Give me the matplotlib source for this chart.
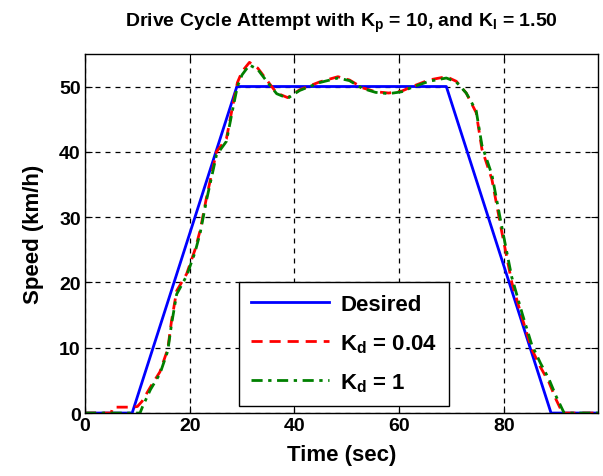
import matplotlib.pyplot as plt
import numpy as np

plt.rcParams['font.family'] = ['Liberation Sans', 'DejaVu Sans']
plt.rcParams['font.weight'] = 'bold'
plt.rcParams['mathtext.fontset'] = 'custom'
plt.rcParams['mathtext.rm'] = 'Liberation Sans:bold'
plt.rcParams['mathtext.it'] = 'Liberation Sans:bold'
plt.rcParams['mathtext.bf'] = 'Liberation Sans:bold'

# desired drive cycle
t_des = [0, 9, 29, 69, 89, 98]
v_des = [0, 0, 50, 50, 0, 0]

# Kd = 0.04 response
t_a = [0, 5.0, 5.3, 9.1, 10.0, 10.9, 12.5, 14.3, 15.8, 16.5, 17.5, 19.4, 21.0, 22.0,
       23.2, 25.1, 27.0, 28.2, 29.1, 30.0, 31.4, 33.0, 34.7, 36.6, 38.7, 41.0, 44.8,
       48.3, 50.5, 53.0, 55.5, 58.0, 60.5, 62.5, 65.7, 69.0, 70.9, 72.8, 74.7, 75.8,
       77.7, 79.6, 81.5, 83.5, 85.3, 87.0, 88.6, 90.0, 91.2, 98]
v_a = [0, 0, 0.9, 0.9, 1.0, 1.8, 4.0, 6.3, 9.8, 14.0, 18.7, 21.3, 25.0, 28.0,
       33.0, 40.0, 42.0, 47.0, 50.6, 52.3, 53.7, 52.8, 51.0, 49.0, 48.3, 49.5, 50.7,
       51.5, 51.0, 49.8, 49.2, 49.0, 49.3, 50.0, 51.0, 51.5, 50.8, 49.0, 46.0, 40.4,
       35.8, 27.7, 20.0, 14.5, 9.8, 7.0, 4.7, 2.0, 0, 0]

# Kd = 1 response
t_b = [0, 10.5, 11.0, 12.5, 14.3, 15.8, 16.5, 17.5, 19.4, 21.0, 22.0,
       23.2, 25.1, 27.0, 28.2, 29.1, 30.0, 31.4, 33.0, 34.7, 36.6, 38.7, 41.0, 44.8,
       48.3, 50.5, 53.0, 55.5, 58.0, 60.5, 62.5, 65.7, 69.0, 70.9, 72.8, 74.7, 75.8,
       77.7, 79.6, 81.5, 83.5, 85.3, 87.0, 88.6, 90.0, 91.5, 98]
v_b = [0, 0, 1.0, 3.6, 6.0, 9.5, 13.5, 18.2, 21.0, 24.6, 27.6,
       32.6, 39.5, 41.6, 46.5, 50.0, 51.8, 53.3, 52.6, 50.8, 48.9, 48.2, 49.4, 50.6,
       51.3, 50.9, 49.7, 49.1, 48.9, 49.2, 49.9, 50.8, 51.3, 50.7, 49.0, 46.3, 41.0,
       36.5, 28.5, 20.8, 15.2, 10.5, 7.6, 5.2, 2.5, 0, 0]

labels = ['Desired', r'K$_\mathrm{d}$ = 0.04', r'K$_\mathrm{d}$ = 1']

fig = plt.figure(figsize=(6.03, 4.77), dpi=100)
ax = fig.add_axes([0.141, 0.132, 0.851, 0.753])

ax.plot(t_des, v_des, color='#0000ff', lw=2.0, label=labels[0])
ax.plot(t_a, v_a, color='#ff0000', lw=2.0, ls='--', dashes=(4, 2.5), label=labels[1])
ax.plot(t_b, v_b, color='#008000', lw=2.0, ls='-.', dashes=(4, 2, 1.2, 2), label=labels[2])

ax.set_xlim(0, 98)
ax.set_ylim(0, 55)
ax.set_xticks([0, 20, 40, 60, 80])
ax.set_yticks([0, 10, 20, 30, 40, 50])
ax.grid(True, color='black', ls=(0, (4, 4)), lw=0.9)
ax.tick_params(direction='in', top=True, right=True, labelsize=14, length=5, pad=3)
for s in ax.spines.values():
    s.set_color('black')
    s.set_linewidth(1.0)

ax.set_xlabel('Time (sec)', fontsize=16, fontweight='bold', labelpad=7)
ax.set_ylabel('Speed (km/h)', fontsize=16, fontweight='bold', labelpad=11)
ax.set_title(r'Drive Cycle Attempt with K$_\mathrm{p}$ = 10, and K$_\mathrm{I}$ = 1.50',
             fontsize=14, fontweight='bold', pad=20)

leg = ax.legend(loc='lower left', bbox_to_anchor=(0.300, 0.0195), borderaxespad=0,
                fontsize=16, fancybox=False, framealpha=1, edgecolor='black',
                handlelength=3.5, handletextpad=0.5, labelspacing=0.75, borderpad=0.55)
leg.get_frame().set_linewidth(1.0)

fig.savefig('out.png', dpi=100)
